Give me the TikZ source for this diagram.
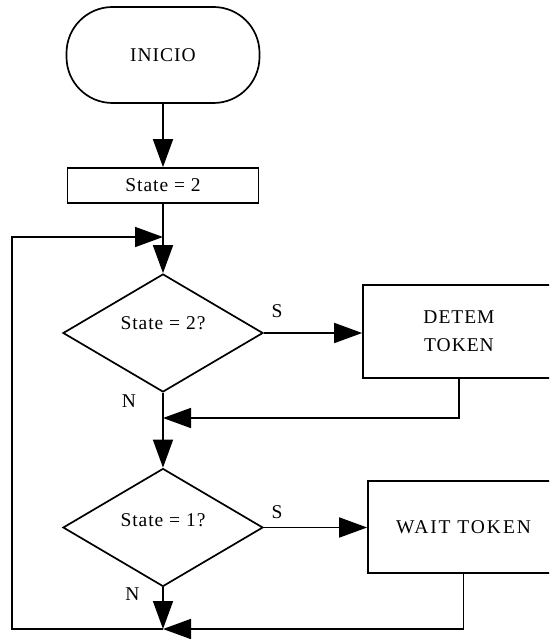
\documentclass[tikz,border=0pt]{standalone}
\usepackage{fontspec}
\setmainfont{Liberation Serif}[LetterSpace=5]
\usetikzlibrary{arrows.meta,shapes.geometric}
\begin{document}
\begin{tikzpicture}[x=1pt,y=-1pt,
  font=\fontsize{19.5}{28}\selectfont,
  line width=1.7pt,
  flow/.style={-{Triangle[length=28pt,width=20pt]}},
  plainbox/.style={draw, rectangle, inner sep=0pt},
  terminal/.style={draw, rectangle, rounded corners=46pt, minimum width=193pt, minimum height=96pt, inner sep=0pt},
  decision/.style={draw, diamond, minimum width=200pt, minimum height=118pt, inner sep=0pt},
  tag/.style={inner sep=0pt, anchor=base}
]
\clip (0,0) rectangle (549,639);

% shapes
\node[terminal] (inicio) at (163,55) {INICIO};
\node[plainbox, minimum width=191pt, minimum height=35pt] (st2) at (163,185.5) {State = 2};
\node[decision] (d1) at (163,333) {};
\node[decision] (d2) at (163,527.5) {};
\node[plainbox, minimum width=192pt, minimum height=93pt, align=center] (det) at (459,331.5) {DETEM\\TOKEN};
\node[plainbox, minimum width=191pt, minimum height=92pt] (wait) at (463.5,527) {\addfontfeatures{LetterSpace=10}WAIT TOKEN};

% texts inside the decisions and branch labels
\node[tag] (q1) at (163,329) {State = 2?};
\node[tag] (q2) at (163,526) {State = 1?};
\node[tag] (s1) at (277,317) {S};
\node[tag] (s2) at (277,518) {S};
\node[tag] (n1) at (129,407) {N};
\node[tag] (n2) at (132.5,600) {N};

% junction points
\coordinate (j0) at (163,237);
\coordinate (j1) at (163,418);
\coordinate (j2) at (163,629);
\coordinate (lb) at (12,629);
\coordinate (lt) at (12,237);

% connectors
\draw[flow] (inicio.south) -- (st2.north);
\draw[flow] (st2.south) -- (d1.north);
\draw[flow] (d1.east) -- (d1.east -| det.west);
\draw[flow] (d1.south) -- (d2.north);
\draw[flow] (det.south) |- (j1);
\draw[flow] (d2.east) -- (d2.east -| wait.west);
\draw[flow] (d2.south) -- (j2);
\draw[flow] (wait.south) |- (j2);
\draw[flow] (j2) -- (lb) -- (lt) -- (j0);
\end{tikzpicture}
\end{document}
